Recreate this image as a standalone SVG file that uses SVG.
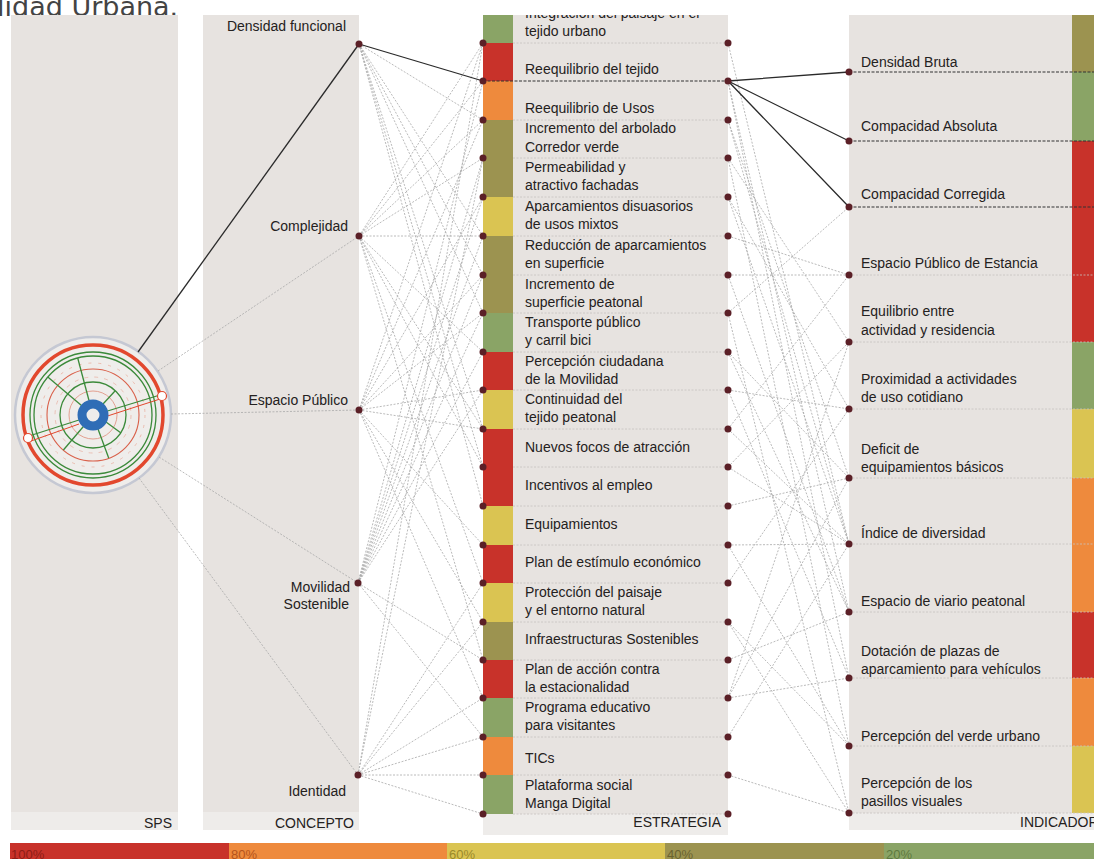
<svg xmlns="http://www.w3.org/2000/svg" width="1094" height="859" viewBox="0 0 1094 859">
<style>
.panel{fill:#e7e3e0}
.band{fill:#eeecea}
.t{font-family:"Liberation Sans",Arial,sans-serif;font-size:14px;fill:#242120}
.tr{font-family:"Liberation Sans",Arial,sans-serif;font-size:14px;fill:#242120;text-anchor:end}
.c{stroke:#a8a8a8;stroke-width:0.8;stroke-dasharray:2 1.5;fill:none}
.k{stroke:#2a2a2a;stroke-width:1.3;fill:none}
.kd{stroke:#333;stroke-width:1.2;stroke-dasharray:3 1.5;fill:none}
.sep{stroke:#c6c2bf;stroke-width:0.8;stroke-dasharray:2 1.5;fill:none}
.dot{fill:#5b2027}
.r{fill:#c8322a}.o{fill:#ee8a3d}.y{fill:#dac452}.v{fill:#9c9350}.g{fill:#8aa466}
.ring{fill:none}
.gl{stroke:#3b8a3a;stroke-width:1.3;fill:none}
.lg{font-family:"Liberation Sans",Arial,sans-serif;font-size:13px}
</style>
<defs>
<clipPath id="clipTop"><rect x="0" y="15" width="1094" height="844"/></clipPath>
</defs>

<text x="-3" y="16" font-family="DejaVu Sans, sans-serif" font-size="27" fill="#444">lidad Urbana.</text>

<!-- panels -->
<g id="panel-sps">
<rect class="panel" x="11" y="15" width="167" height="815"/>
<rect class="band" x="11" y="812" width="167" height="18"/>
<text class="tr" x="172" y="828">SPS</text>
</g>
<g id="panel-concepto">
<rect class="panel" x="203" y="15" width="156" height="815"/>
<rect class="band" x="203" y="812" width="156" height="18"/>
<text class="tr" x="354" y="828">CONCEPTO</text>
</g>
<g id="panel-estrategia">
<rect class="panel" x="483" y="15" width="245" height="820"/>
<rect class="band" x="483" y="814" width="245" height="21"/>
<text class="tr" x="721" y="827">ESTRATEGIA</text>
</g>
<g id="panel-indicador">
<rect class="panel" x="849" y="15" width="245" height="815"/>
<rect class="band" x="849" y="813" width="245" height="17"/>
<text class="t" x="1020" y="827">INDICADOR</text>
</g>

<!-- SPS wheel -->
<g id="sps" transform="translate(93,415)">
<circle r="78" fill="#efedeb" stroke="#c5c8d3" stroke-width="2.5"/>
<circle r="70" class="ring" stroke="#e2482e" stroke-width="3.5"/>
<circle r="63" class="gl"/>
<circle r="59" class="gl"/>
<circle r="46" class="ring" stroke="#d9604a" stroke-width="1.1"/>
<circle r="33" class="gl"/>
<circle r="24" class="ring" stroke="#e3a090" stroke-width="1"/>
<circle r="38" class="ring" stroke="#e9b5a8" stroke-width="0.8" stroke-dasharray="4 6"/>
<circle r="52" class="ring" stroke="#eab0a0" stroke-width="0.8" stroke-dasharray="3 7"/>
<line class="gl" x1="-4" y1="-14.5" x2="-15.3" y2="-57"/>
<line class="gl" x1="-11.5" y1="-9.6" x2="-45.2" y2="-38"/>
<line class="gl" x1="14.5" y1="-4" x2="67" y2="-20"/>
<line stroke="#e2482e" stroke-width="1" x1="14.5" y1="1" x2="67" y2="-16"/>
<line class="gl" x1="-14" y1="5" x2="-64" y2="21"/>
<line stroke="#e2482e" stroke-width="1" x1="-14" y1="9" x2="-62" y2="26"/>
<line class="gl" x1="5" y1="14" x2="15.7" y2="43"/>
<line class="gl" x1="-9.6" y1="11.5" x2="-29.6" y2="35"/>
<line class="gl" x1="10" y1="-11" x2="22" y2="-24"/>
<line class="gl" x1="13" y1="7" x2="28" y2="18"/>
<circle cx="69" cy="-19" r="4.5" fill="#fff" stroke="#e2482e" stroke-width="1.2"/>
<circle cx="-65" cy="23" r="4.5" fill="#fff" stroke="#e2482e" stroke-width="1.2"/>
<circle r="11" class="ring" stroke="#2f6db6" stroke-width="9"/>
</g>

<!-- strategy rows -->
<g id="strategy-strip">
<rect class="g" x="483" y="15" width="30" height="28"/>
<rect class="r" x="483" y="43" width="30" height="38"/>
<rect class="o" x="483" y="81" width="30" height="39"/>
<rect class="v" x="483" y="120" width="30" height="38"/>
<rect class="v" x="483" y="158" width="30" height="39"/>
<rect class="y" x="483" y="197" width="30" height="39"/>
<rect class="v" x="483" y="236" width="30" height="39"/>
<rect class="v" x="483" y="275" width="30" height="38"/>
<rect class="g" x="483" y="313" width="30" height="39"/>
<rect class="r" x="483" y="352" width="30" height="38"/>
<rect class="y" x="483" y="390" width="30" height="39"/>
<rect class="r" x="483" y="429" width="30" height="38"/>
<rect class="r" x="483" y="467" width="30" height="39"/>
<rect class="y" x="483" y="506" width="30" height="39"/>
<rect class="r" x="483" y="545" width="30" height="38"/>
<rect class="y" x="483" y="583" width="30" height="39"/>
<rect class="v" x="483" y="622" width="30" height="38"/>
<rect class="r" x="483" y="660" width="30" height="38"/>
<rect class="g" x="483" y="698" width="30" height="39"/>
<rect class="o" x="483" y="737" width="30" height="38"/>
<rect class="g" x="483" y="775" width="30" height="39"/>
</g>
<g id="strategy-separators">
<path class="sep" d="M513 43H728M513 120H728M513 158H728M513 197H728M513 236H728M513 275H728M513 313H728M513 352H728M513 390H728M513 429H728M513 467H728M513 506H728M513 545H728M513 583H728M513 622H728M513 660H728M513 698H728M513 737H728M513 775H728M513 814H728"/>
</g>
<g id="strategy-labels">
<text class="t" x="525" y="18" clip-path="url(#clipTop)">Integración del paisaje en el</text>
<text class="t" x="525" y="36">tejido urbano</text>
<text class="t" x="525" y="74">Reequilibrio del tejido</text>
<text class="t" x="525" y="113">Reequilibrio de Usos</text>
<text class="t" x="525" y="133">Incremento del arbolado</text>
<text class="t" x="525" y="152">Corredor verde</text>
<text class="t" x="525" y="172">Permeabilidad y</text>
<text class="t" x="525" y="190">atractivo fachadas</text>
<text class="t" x="525" y="211">Aparcamientos disuasorios</text>
<text class="t" x="525" y="229">de usos mixtos</text>
<text class="t" x="525" y="250">Reducción de aparcamientos</text>
<text class="t" x="525" y="268">en superficie</text>
<text class="t" x="525" y="289">Incremento de</text>
<text class="t" x="525" y="307">superficie peatonal</text>
<text class="t" x="525" y="327">Transporte público</text>
<text class="t" x="525" y="345">y carril bici</text>
<text class="t" x="525" y="366">Percepción ciudadana</text>
<text class="t" x="525" y="384">de la Movilidad</text>
<text class="t" x="525" y="404">Continuidad del</text>
<text class="t" x="525" y="422">tejido peatonal</text>
<text class="t" x="525" y="452">Nuevos focos de atracción</text>
<text class="t" x="525" y="490">Incentivos al empleo</text>
<text class="t" x="525" y="529">Equipamientos</text>
<text class="t" x="525" y="567">Plan de estímulo económico</text>
<text class="t" x="525" y="597">Protección del paisaje</text>
<text class="t" x="525" y="615">y el entorno natural</text>
<text class="t" x="525" y="644">Infraestructuras Sostenibles</text>
<text class="t" x="525" y="674">Plan de acción contra</text>
<text class="t" x="525" y="692">la estacionalidad</text>
<text class="t" x="525" y="712">Programa educativo</text>
<text class="t" x="525" y="730">para visitantes</text>
<text class="t" x="525" y="763">TICs</text>
<text class="t" x="525" y="790">Plataforma social</text>
<text class="t" x="525" y="808">Manga Digital</text>
</g>

<!-- indicator strip -->
<g id="indicator-strip">
<rect class="v" x="1072" y="15" width="22" height="57"/>
<rect class="g" x="1072" y="72" width="22" height="69"/>
<rect class="r" x="1072" y="141" width="22" height="201"/>
<rect class="g" x="1072" y="342" width="22" height="67"/>
<rect class="y" x="1072" y="409" width="22" height="69"/>
<rect class="o" x="1072" y="478" width="22" height="134"/>
<rect class="r" x="1072" y="612" width="22" height="66"/>
<rect class="o" x="1072" y="678" width="22" height="68"/>
<rect class="y" x="1072" y="746" width="22" height="67"/>
</g>
<g id="indicator-separators">
<path class="kd" d="M849 72H1094M849 141H1094M849 207H1094"/>
<path class="sep" d="M849 275H1094M849 342H1094M849 409H1094M849 478H1094M849 544H1094M849 612H1094M849 678H1094M849 746H1094M849 813H1094"/>
</g>
<g id="indicator-labels">
<text class="t" x="861" y="67">Densidad Bruta</text>
<text class="t" x="861" y="131">Compacidad Absoluta</text>
<text class="t" x="861" y="199">Compacidad Corregida</text>
<text class="t" x="861" y="268">Espacio Público de Estancia</text>
<text class="t" x="861" y="316">Equilibrio entre</text>
<text class="t" x="861" y="335">actividad y residencia</text>
<text class="t" x="861" y="384">Proximidad a actividades</text>
<text class="t" x="861" y="402">de uso cotidiano</text>
<text class="t" x="861" y="454">Deficit de</text>
<text class="t" x="861" y="472">equipamientos básicos</text>
<text class="t" x="861" y="538">Índice de diversidad</text>
<text class="t" x="861" y="606">Espacio de viario peatonal</text>
<text class="t" x="861" y="656">Dotación de plazas de</text>
<text class="t" x="861" y="674">aparcamiento para vehículos</text>
<text class="t" x="861" y="741">Percepción del verde urbano</text>
<text class="t" x="861" y="788">Percepción de los</text>
<text class="t" x="861" y="806">pasillos visuales</text>
</g>

<!-- concept labels -->
<g id="concept-densidad"><text class="tr" x="346" y="31">Densidad funcional</text></g>
<g id="concept-complejidad"><text class="tr" x="348" y="231">Complejidad</text></g>
<g id="concept-espacio"><text class="tr" x="348" y="405">Espacio Público</text></g>
<g id="concept-movilidad"><text class="tr" x="350" y="592">Movilidad</text><text class="tr" x="349" y="609">Sostenible</text></g>
<g id="concept-identidad"><text class="tr" x="346" y="796">Identidad</text></g>

<!-- connectors -->
<g id="connectors">
<path class="c" d="M158 371L359 236M171 414L359 410M159 457L358 583M139 478L358 775"/>
<path class="k" d="M138 352L359 44"/>
<path class="c" d="M359 44L483 120M359 44L483 236M359 44L483 275M359 44L483 313M359 44L483 429M359 44L483 467M359 44L483 506
M359 236L483 43M359 236L483 81M359 236L483 120M359 236L483 158M359 236L483 236M359 236L483 352M359 236L483 429M359 236L483 467M359 236L483 583M359 236L483 660
M359 410L483 43M359 410L483 120M359 410L483 197M359 410L483 275M359 410L483 313M359 410L483 390M359 410L483 429M359 410L483 545M359 410L483 622M359 410L483 698
M358 583L483 81M358 583L483 158M358 583L483 197M358 583L483 236M358 583L483 275M358 583L483 313M358 583L483 352M358 583L483 390M358 583L483 660M358 583L483 737
M358 775L483 43M358 775L483 158M358 775L483 583M358 775L483 622M358 775L483 698M358 775L483 737M358 775L483 775M358 775L483 814"/>
<path class="k" d="M359 44L483 81"/>
<path class="kd" d="M483 81H728"/>
<path class="c" d="M728 43L849 544M728 81L849 612M728 81L849 678M728 120L849 478M728 120L849 544M728 158L849 342M728 158L849 746M728 197L849 409M728 197L849 544M728 236L849 275M728 275L849 275M728 275L849 612M728 313L849 207M728 313L849 813M728 352L849 478M728 352L849 612M728 390L849 409M728 390L849 678M728 429L849 275M728 429L849 544M728 467L849 342M728 467L849 544M728 506L849 478M728 545L849 544M728 545L849 746M728 583L849 409M728 622L849 746M728 622L849 813M728 660L849 612M728 698L849 342M728 698L849 478M728 698L849 678M728 737L849 544M728 775L849 813"/>
<path class="k" d="M728 81L849 72M728 81L849 141M728 81L849 207"/>
</g>

<!-- dots -->
<g id="dots">
<circle class="dot" cx="359" cy="44" r="3.5"/><circle class="dot" cx="359" cy="236" r="3.5"/><circle class="dot" cx="359" cy="410" r="3.5"/><circle class="dot" cx="358" cy="583" r="3.5"/><circle class="dot" cx="358" cy="775" r="3.5"/>
<g id="dots-left">
<circle class="dot" cx="483" cy="43" r="3.5"/><circle class="dot" cx="483" cy="81" r="3.5"/><circle class="dot" cx="483" cy="120" r="3.5"/><circle class="dot" cx="483" cy="158" r="3.5"/><circle class="dot" cx="483" cy="197" r="3.5"/><circle class="dot" cx="483" cy="236" r="3.5"/><circle class="dot" cx="483" cy="275" r="3.5"/><circle class="dot" cx="483" cy="313" r="3.5"/><circle class="dot" cx="483" cy="352" r="3.5"/><circle class="dot" cx="483" cy="390" r="3.5"/><circle class="dot" cx="483" cy="429" r="3.5"/><circle class="dot" cx="483" cy="467" r="3.5"/><circle class="dot" cx="483" cy="506" r="3.5"/><circle class="dot" cx="483" cy="545" r="3.5"/><circle class="dot" cx="483" cy="583" r="3.5"/><circle class="dot" cx="483" cy="622" r="3.5"/><circle class="dot" cx="483" cy="660" r="3.5"/><circle class="dot" cx="483" cy="698" r="3.5"/><circle class="dot" cx="483" cy="737" r="3.5"/><circle class="dot" cx="483" cy="775" r="3.5"/><circle class="dot" cx="483" cy="814" r="3.5"/>
</g>
<g id="dots-right">
<circle class="dot" cx="728" cy="43" r="3.5"/><circle class="dot" cx="728" cy="81" r="3.5"/><circle class="dot" cx="728" cy="120" r="3.5"/><circle class="dot" cx="728" cy="158" r="3.5"/><circle class="dot" cx="728" cy="197" r="3.5"/><circle class="dot" cx="728" cy="236" r="3.5"/><circle class="dot" cx="728" cy="275" r="3.5"/><circle class="dot" cx="728" cy="313" r="3.5"/><circle class="dot" cx="728" cy="352" r="3.5"/><circle class="dot" cx="728" cy="390" r="3.5"/><circle class="dot" cx="728" cy="429" r="3.5"/><circle class="dot" cx="728" cy="467" r="3.5"/><circle class="dot" cx="728" cy="506" r="3.5"/><circle class="dot" cx="728" cy="545" r="3.5"/><circle class="dot" cx="728" cy="583" r="3.5"/><circle class="dot" cx="728" cy="622" r="3.5"/><circle class="dot" cx="728" cy="660" r="3.5"/><circle class="dot" cx="728" cy="698" r="3.5"/><circle class="dot" cx="728" cy="737" r="3.5"/><circle class="dot" cx="728" cy="775" r="3.5"/><circle class="dot" cx="728" cy="814" r="3.5"/>
</g>
<g id="dots-indicator">
<circle class="dot" cx="849" cy="72" r="3.5"/><circle class="dot" cx="849" cy="141" r="3.5"/><circle class="dot" cx="849" cy="207" r="3.5"/><circle class="dot" cx="849" cy="275" r="3.5"/><circle class="dot" cx="849" cy="342" r="3.5"/><circle class="dot" cx="849" cy="409" r="3.5"/><circle class="dot" cx="849" cy="478" r="3.5"/><circle class="dot" cx="849" cy="544" r="3.5"/><circle class="dot" cx="849" cy="612" r="3.5"/><circle class="dot" cx="849" cy="678" r="3.5"/><circle class="dot" cx="849" cy="746" r="3.5"/><circle class="dot" cx="849" cy="813" r="3.5"/>
</g>
</g>

<!-- legend -->
<g id="legend">
<rect class="r" x="10" y="843" width="219" height="16"/>
<rect class="o" x="229" y="843" width="218" height="16"/>
<rect class="y" x="447" y="843" width="218" height="16"/>
<rect class="v" x="665" y="843" width="219" height="16"/>
<rect class="g" x="884" y="843" width="210" height="16"/>
<text class="lg" x="11" y="859" fill="#8e1d16">100%</text>
<text class="lg" x="231" y="859" fill="#b5541c">80%</text>
<text class="lg" x="449" y="859" fill="#9a8a2a">60%</text>
<text class="lg" x="667" y="859" fill="#6a6330">40%</text>
<text class="lg" x="886" y="859" fill="#5e7a40">20%</text>
</g>
</svg>
